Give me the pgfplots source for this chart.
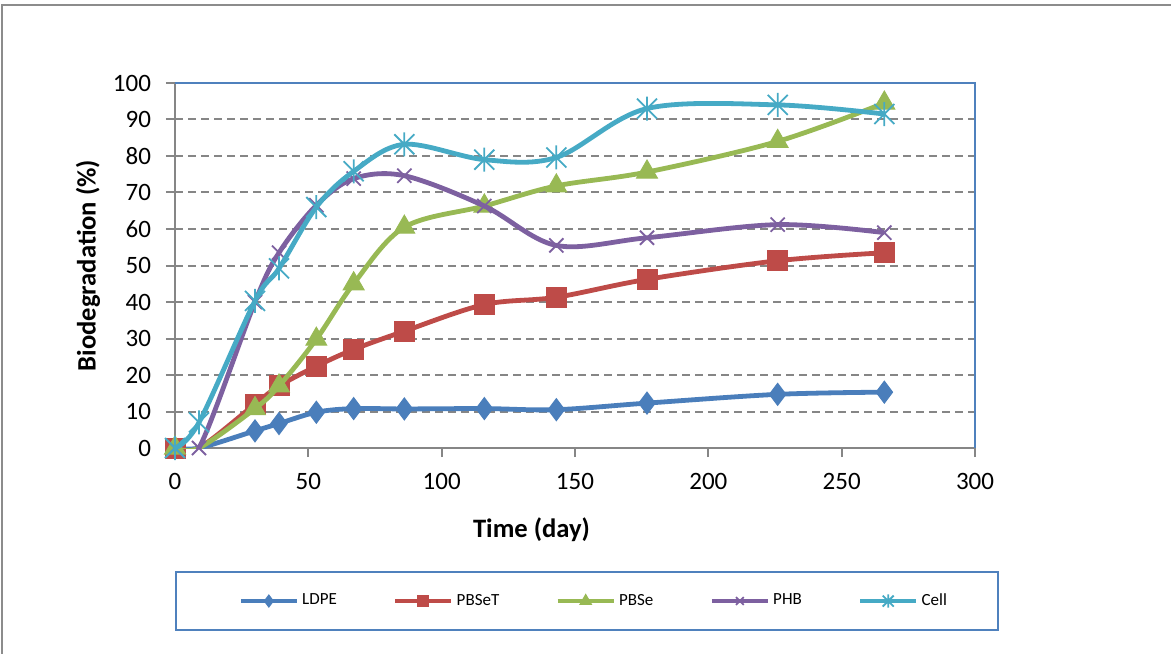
\documentclass[border=0pt]{standalone}
\usepackage{fontspec}
\setmainfont{Carlito}
\usepackage{graphicx}
\usepackage{pgfplots}
\pgfplotsset{compat=1.18}
\usetikzlibrary{plotmarks}
\definecolor{cLDPE}{HTML}{4A7EBB}
\definecolor{cPBSeT}{HTML}{BE4B48}
\definecolor{cPBSe}{HTML}{98B954}
\definecolor{cPHB}{HTML}{7D60A0}
\definecolor{cCell}{HTML}{46AAC5}
\definecolor{gridgray}{HTML}{868686}
\definecolor{framegray}{HTML}{8C8C8C}
\definecolor{boxblue}{HTML}{4F81BD}
\pgfdeclareplotmark{xstar}{%
  \pgfpathmoveto{\pgfqpoint{-\pgfplotmarksize}{-\pgfplotmarksize}}%
  \pgfpathlineto{\pgfqpoint{\pgfplotmarksize}{\pgfplotmarksize}}%
  \pgfpathmoveto{\pgfqpoint{-\pgfplotmarksize}{\pgfplotmarksize}}%
  \pgfpathlineto{\pgfqpoint{\pgfplotmarksize}{-\pgfplotmarksize}}%
  \pgfpathmoveto{\pgfqpoint{0pt}{-1.2\pgfplotmarksize}}%
  \pgfpathlineto{\pgfqpoint{0pt}{1.2\pgfplotmarksize}}%
  \pgfusepathqstroke}
\begin{document}
\begin{tikzpicture}
\useasboundingbox (-87.5pt,-102.5pt) rectangle (498pt,224pt);
\draw[framegray, line width=1pt] (-86.3pt,-110pt) -- (-86.3pt,221.5pt) -- (510pt,221.5pt);
\begin{axis}[
  at={(0pt,0pt)}, anchor=south west,
  scale only axis, width=400pt, height=182.5pt,
  xmin=0, xmax=300, ymin=0, ymax=100,
  xtick={0,50,...,300}, ytick={0,10,...,100},
  axis x line=bottom, axis y line=left,
  axis line style={-, draw=gridgray, line width=1.2pt},
  tick align=outside, major tick length=4.5pt,
  tick style={draw=gridgray, line width=1pt},
  ymajorgrids,
  major grid style={draw=gridgray, line width=1pt, dash pattern=on 4pt off 2.5pt},
  /pgf/number format/assume math mode=true,
  ticklabel style={font=\fontsize{12.5}{14}\selectfont},
  xticklabel style={yshift=-4.5pt},
  yticklabel style={xshift=-4pt},
  xlabel={\textbf{Time (day)}},
  ylabel={\textbf{Biodegradation (\%)}},
  label style={font=\fontsize{13.3}{16}\selectfont},
  xlabel style={at={(axis description cs:0.4456,-0.2247)}, anchor=center},
  ylabel style={at={(axis description cs:-0.1088,0.5)}, anchor=center},
  every axis plot/.append style={line width=2.4pt, smooth, tension=0.55},
  legend columns=5,
  legend style={at={(0.524,-0.4192)}, anchor=center, draw=none, fill=none,
    font=\fontsize{8.5}{10}\selectfont,
    nodes={inner sep=1.5pt},
    /tikz/every even column/.append style={column sep=26.5pt},
    /tikz/every odd column/.append style={column sep=0pt}},
  legend image code/.code={\draw[#1, mark indices={2}, /tikz/every mark/.append style={scale=0.55}] plot coordinates {(0pt,0pt) (14pt,0pt) (28pt,0pt)};},
  clip mode=individual,
]
\addplot[cLDPE, mark=diamond*, mark size=5.5pt, mark options={solid, fill=cLDPE, line width=0.5pt},
  mark indices={1,3,4,5,6,7,8,9,10,11,12}] coordinates {
  (0,0)(9,0)(30,4.7)(39,6.7)(53,9.8)(67,10.8)(86,10.7)(116,10.8)(143,10.5)(177,12.3)(226,14.7)(266,15.3)};
\addlegendentry{LDPE}
\addplot[cPBSeT, mark=square*, mark size=5pt, mark options={solid, fill=cPBSeT, line width=0.5pt},
  mark indices={1,3,4,5,6,7,8,9,10,11,12}] coordinates {
  (0,0)(9,0)(30,12.0)(39,17.0)(53,22.4)(67,27.0)(86,32.0)(116,39.3)(143,41.3)(177,46.2)(226,51.3)(266,53.5)};
\addlegendentry{PBSeT}
\addplot[cPBSe, mark=triangle*, mark size=6pt, mark options={solid, fill=cPBSe, line width=0.5pt},
  mark indices={1,3,4,5,6,7,8,9,10,11,12}] coordinates {
  (0,0)(9,0)(30,10.8)(39,17.0)(53,29.8)(67,45.0)(86,60.5)(116,66.3)(143,71.8)(177,75.6)(226,84.0)(266,94.5)};
\addlegendentry{PBSe}
\addplot[cPHB, mark=x, mark size=5pt, mark options={solid, line width=0.9pt}] coordinates {
  (0,0)(9,0)(30,40.0)(39,53.5)(53,66.5)(67,73.8)(86,74.6)(116,66.3)(143,55.5)(177,57.6)(226,61.2)(266,59.0)};
\addlegendentry{PHB}
\addplot[cCell, mark=xstar, mark size=5pt, mark options={solid, line width=0.9pt}] coordinates {
  (0,0)(9,7.0)(30,40.3)(39,49.2)(53,66.0)(67,75.8)(86,83.2)(116,79.0)(143,79.6)(177,93.0)(226,94.0)(266,91.5)};
\addlegendentry{Cell}
\draw[boxblue, line width=0.9pt] (rel axis cs:0,1) -- (rel axis cs:1,1) -- (rel axis cs:1,0);
\end{axis}
\draw[boxblue, line width=0.8pt] (0.5pt,-91pt) rectangle (411.5pt,-62pt);
\end{tikzpicture}
\end{document}
